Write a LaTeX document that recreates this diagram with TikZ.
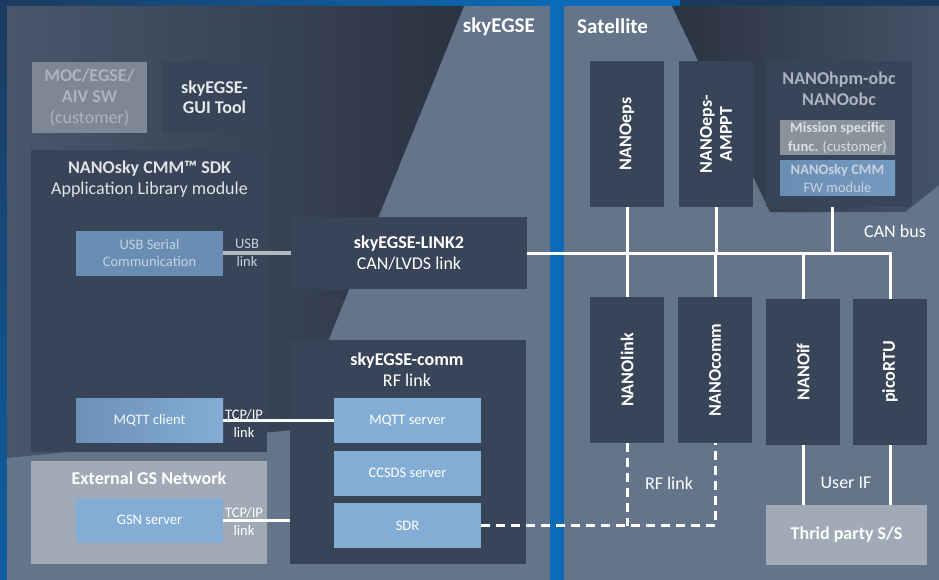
\documentclass[tikz,border=0pt]{standalone}
\usepackage{fontspec}
\setmainfont{Carlito}
\usepackage{xcolor}
\usetikzlibrary{positioning}

\definecolor{bgblue}{HTML}{0B6BB8}
\definecolor{bgnavy}{HTML}{1B3A5E}
\definecolor{panel}{HTML}{64748A}
\definecolor{boxdark}{HTML}{384457}
\definecolor{boxblue}{HTML}{84ADD5}
\definecolor{boxmid}{HTML}{6A8DB3}
\definecolor{boxgrey}{HTML}{7D8796}
\definecolor{boxlight}{HTML}{A1ABB8}
\definecolor{boxmission}{HTML}{8A929C}
\definecolor{txtgrey}{HTML}{ABB4BF}
\definecolor{txtpale}{HTML}{C6D2DF}
\definecolor{wiregrey}{HTML}{B0B8C2}

\begin{document}
\begin{tikzpicture}[x=1pt,y=-1pt,
    box/.style={inner sep=0pt,outer sep=0pt,align=center,text=white},
    darkbox/.style={box,fill=boxdark},
    bluebox/.style={box,fill=boxblue,minimum width=147pt,minimum height=44.5pt,font=\fontsize{14.5}{17.5}\selectfont},
    greybox/.style={box,fill=boxlight},
    vbox/.style={darkbox,minimum width=74pt,minimum height=145.5pt},
    vtext/.style={rotate=90,inner sep=0pt,font=\bfseries\fontsize{18}{20}\selectfont,text=white,align=center},
    head/.style={inner sep=0pt,font=\bfseries\fontsize{21}{24}\selectfont,text=white},
    title/.style={inner sep=0pt,font=\bfseries\fontsize{18}{20.5}\selectfont,text=white,align=center},
    plain/.style={inner sep=0pt,font=\fontsize{18}{21}\selectfont,text=white,align=center},
    small/.style={inner sep=0pt,font=\fontsize{14.5}{18}\selectfont,text=white,align=center},
    wire/.style={line width=3pt,draw=white},
    dashwire/.style={wire,dash pattern=on 9pt off 6pt},
  ]
  \useasboundingbox (0,0) rectangle (939,580);

  % background and the two panels
  \fill[bgblue] (0,0) rectangle (939,580);
  \shade[left color=bgnavy,right color=bgblue] (0,0) rectangle (560,6);
  \fill[bgnavy] (680,0) rectangle (939,6);
  \shade[top color=bgnavy,bottom color=bgblue!75!bgnavy] (0,0) rectangle (7,580);
  \fill[panel] (7,6) rectangle (550,580);
  \fill[panel] (564,6) rectangle (939,580);

  % shadows on the panels
  \shade[left color=boxdark!60!panel,right color=black!25!boxdark] (7,6) -- (464,6) -- (292,430) -- (7,458) -- cycle;
  \shade[left color=black!25!boxdark,right color=boxdark!70!panel] (672,6) -- (939,6) -- (939,185) -- (905,212) -- (770,212) -- cycle;

  % panel headers
  \node[head,anchor=east] (egse) at (535,27) {skyEGSE};
  \node[head,anchor=west] (sat) at (577,26) {Satellite};

  % ground software
  \node[box,fill=boxgrey,minimum width=115pt,minimum height=71pt,text=txtgrey,font=\fontsize{18}{21}\selectfont] (moc) at (89.5,97.5) {\textbf{MOC/EGSE/}\\\textbf{AIV SW}\\(customer)};
  \node[darkbox,title,minimum width=105pt,minimum height=71pt,text=white!88!boxdark] (gui) at (214.5,97.5) {skyEGSE-\\GUI Tool};

  % SDK
  \node[darkbox,minimum width=236pt,minimum height=302pt] (sdk) at (149,301) {};
  \node[title,text=white!85!boxdark] (sdk-t) at (149.5,179) {NANOsky CMM\texttrademark{} SDK\\\textmd{Application Library module}};
  \node[bluebox,fill=boxmid,text=txtpale,minimum height=45pt] (usb) at (149.5,253) {USB Serial\\Communication};
  \node[bluebox,left color=boxmid!90!boxblue,right color=boxblue,text=white!92!boxblue] (mqttc) at (149.5,420.5) {MQTT client};

  % external network
  \node[greybox,minimum width=236pt,minimum height=103pt] (ext) at (149,512.5) {};
  \node[title] (ext-t) at (149,478) {External GS Network};
  \node[bluebox] (gsn) at (149.5,520.3) {GSN server};

  % skyEGSE hardware
  \node[darkbox,title,minimum width=236pt,minimum height=72pt] (link2) at (409,253) {skyEGSE-LINK2\\\textmd{CAN/LVDS link}};
  \node[darkbox,minimum width=236pt,minimum height=224pt] (comm) at (408,452) {};
  \node[title] (comm-t) at (407,369.5) {skyEGSE-comm\\\textmd{RF link}};
  \node[bluebox] (mqtts) at (407.5,420.5) {MQTT server};
  \node[bluebox] (ccsds) at (407.5,473.3) {CCSDS server};
  \node[bluebox] (sdr) at (407.5,525.5) {SDR};

  % link labels
  \node[small,text=txtpale] (usb-l) at (247,253) {USB\\link};
  \node[small] (tcp1-l) at (244,423) {TCP/IP\\link};
  \node[small] (tcp2-l) at (244,521) {TCP/IP\\link};

  % satellite modules, upper row
  \node[vbox] (eps) at (627,134) {};
  \node[vtext] (eps-t) at (eps) {NANOeps};
  \node[vbox] (amppt) at (716,134) {};
  \node[vtext] (amppt-t) at (amppt) {NANOeps-\\AMPPT};
  \node[darkbox,minimum width=146pt,minimum height=146pt] (obc) at (839,134) {};
  \node[title,text=txtgrey] (obc-t) at (839,89) {NANOhpm-obc\\NANOobc};
  \node[box,fill=boxmission,minimum width=115pt,minimum height=35pt,text=white!70!boxmission,font=\fontsize{14.5}{19}\selectfont] (miss) at (837.5,137.5) {\textbf{Mission specific}\\\textbf{func.} (customer)};
  \node[box,left color=boxmid,right color=boxmid!60!boxblue,minimum width=115pt,minimum height=35pt,text=txtpale,font=\fontsize{14.5}{18}\selectfont] (fw) at (837.5,178.5) {\textbf{NANOsky CMM}\\FW module};

  % satellite modules, lower row
  \node[vbox] (nlink) at (627,370) {};
  \node[vtext] (nlink-t) at (nlink) {NANOlink};
  \node[vbox] (ncomm) at (715,370) {};
  \node[vtext] (ncomm-t) at (ncomm) {NANOcomm};
  \node[vbox] (nif) at (803,372) {};
  \node[vtext] (nif-t) at (nif) {NANOif};
  \node[vbox] (rtu) at (890,372) {};
  \node[vtext] (rtu-t) at (rtu) {picoRTU};
  \node[greybox,title,minimum width=161pt,minimum height=60pt] (third) at (846.5,535) {Thrid party S/S};

  % bus and link labels
  \node[plain] (can-l) at (895,231) {CAN bus};
  \node[plain] (rf-l) at (669,483) {RF link};
  \node[plain] (uif-l) at (846,483) {User IF};

  % ground links
  \draw[wire,draw=wiregrey,line width=3.5pt] (usb.east) -- (link2.west);
  \draw[wire,draw=white!92!wiregrey] (mqttc.east) -- (mqtts.west);
  \draw[wire] (gsn.east) -- (gsn.east -| comm.west);

  % CAN bus
  \draw[wire] (link2.east) -- (link2.east -| rtu.north) -- (rtu.north);
  \draw[wire] (eps.south) -- (eps.south |- link2.east);
  \draw[wire] (amppt.south) -- (amppt.south |- link2.east);
  \draw[wire] ([xshift=-7pt]obc.south) -- ([xshift=-7pt]obc.south |- link2.east);
  \draw[wire] (nlink.north) -- (nlink.north |- link2.east);
  \draw[wire] (ncomm.north) -- (ncomm.north |- link2.east);
  \draw[wire] (nif.north) -- (nif.north |- link2.east);

  % RF link
  \draw[dashwire] (sdr.east) -- (sdr.east -| ncomm.south) -- (ncomm.south);
  \draw[dashwire] (nlink.south) -- (nlink.south |- sdr.east);

  % user interface
  \draw[wire] (nif.south) -- (nif.south |- third.north);
  \draw[wire] (rtu.south) -- (rtu.south |- third.north);
\end{tikzpicture}
\end{document}
